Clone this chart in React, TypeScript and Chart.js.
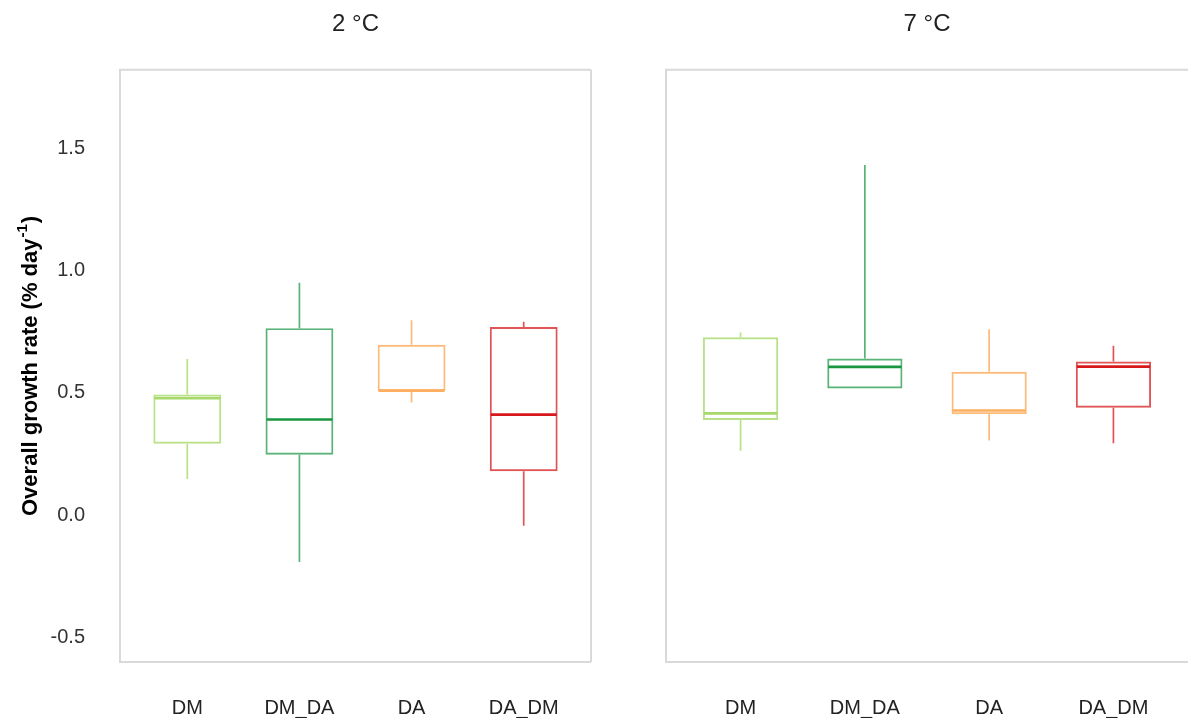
import React, { useEffect, useRef } from 'react';
import { Chart, registerables } from 'chart.js';

Chart.register(...registerables);

const FONT = '"Liberation Sans", Arial, Helvetica, sans-serif';

const categories = ['DM', 'DM_DA', 'DA', 'DA_DM'];
const panelTitles = ['2 °C', '7 °C'];
const yTicks = [-0.5, 0, 0.5, 1.0, 1.5];
const yMin = -0.6;
const yMax = 1.82;

// 2 °C
const min2 = [0.148, -0.191, 0.46, -0.043];
const q1_2 = [0.292, 0.247, 0.507, 0.18];
const med2 = [0.478, 0.391, 0.509, 0.411];
const q3_2 = [0.493, 0.764, 0.696, 0.769];
const max2 = [0.638, 0.95, 0.797, 0.79];

// 7 °C
const min7 = [0.263, 0.518, 0.305, 0.294];
const q1_7 = [0.389, 0.518, 0.413, 0.439];
const med7 = [0.416, 0.606, 0.428, 0.607];
const q3_7 = [0.727, 0.64, 0.586, 0.628];
const max7 = [0.746, 1.431, 0.76, 0.692];

const boxColors = [
  'rgba(166,217,106,0.8)',
  'rgba(26,150,65,0.72)',
  'rgba(253,174,97,0.85)',
  'rgba(215,25,28,0.75)',
];
const medianColors = ['#a6d96a', '#1a9641', '#fdae61', '#d7191c'];

const yTitleMain = 'Overall growth rate (% day';
const yTitleSup = '-1';
const yTitleClose = ')';

type PanelProps = {
  title: string;
  mins: number[];
  q1s: number[];
  meds: number[];
  q3s: number[];
  maxs: number[];
  showY: boolean;
  left: number;
  width: number;
  padLeft: number;
  padRight: number;
  frameRight: boolean;
};

function BoxPanel(p: PanelProps) {
  const ref = useRef<HTMLCanvasElement | null>(null);

  useEffect(() => {
    if (!ref.current) return;

    const boxExtras = {
      id: 'boxExtras',
      beforeDatasetsDraw(chart: any) {
        const { ctx, chartArea: a } = chart;
        ctx.save();
        ctx.strokeStyle = '#d9d9d9';
        ctx.lineWidth = 2;
        ctx.beginPath();
        ctx.moveTo(a.right, a.top);
        ctx.lineTo(a.left, a.top);
        ctx.lineTo(a.left, a.bottom);
        ctx.lineTo(a.right, a.bottom);
        if (p.frameRight) {
          ctx.moveTo(a.right, a.top);
          ctx.lineTo(a.right, a.bottom);
        }
        ctx.stroke();
        ctx.restore();
      },
      afterDatasetsDraw(chart: any) {
        const { ctx } = chart;
        const ys = chart.scales.y;
        const meta = chart.getDatasetMeta(0);
        ctx.save();
        meta.data.forEach((bar: any, i: number) => {
          const { x, width } = bar.getProps(['x', 'width'], true);
          const hw = width / 2;
          // whiskers
          ctx.strokeStyle = boxColors[i];
          ctx.lineWidth = 1.7;
          ctx.beginPath();
          ctx.moveTo(x, ys.getPixelForValue(p.maxs[i]));
          ctx.lineTo(x, ys.getPixelForValue(p.q3s[i]));
          ctx.moveTo(x, ys.getPixelForValue(p.q1s[i]));
          ctx.lineTo(x, ys.getPixelForValue(p.mins[i]));
          ctx.stroke();
          // median
          ctx.strokeStyle = medianColors[i];
          ctx.lineWidth = 2.6;
          ctx.beginPath();
          const my = ys.getPixelForValue(p.meds[i]);
          ctx.moveTo(x - hw + 1, my);
          ctx.lineTo(x + hw - 1, my);
          ctx.stroke();
        });
        ctx.restore();
      },
      afterDraw(chart: any) {
        if (!p.showY) return;
        const { ctx, chartArea: a } = chart;
        const cy = (a.top + a.bottom) / 2 + 1;
        const cx = 31;
        const big = `bold 22px ${FONT}`;
        const small = `bold 15px ${FONT}`;
        ctx.save();
        ctx.translate(cx, cy);
        ctx.rotate(-Math.PI / 2);
        ctx.fillStyle = '#000';
        ctx.textBaseline = 'middle';
        ctx.textAlign = 'left';
        ctx.font = big;
        const w1 = ctx.measureText(yTitleMain).width;
        const w3 = ctx.measureText(yTitleClose).width;
        ctx.font = small;
        const w2 = ctx.measureText(yTitleSup).width;
        let x = -(w1 + w2 + w3) / 2;
        ctx.font = big;
        ctx.fillText(yTitleMain, x, 0);
        x += w1 + 1;
        ctx.font = small;
        ctx.fillText(yTitleSup, x, -8);
        x += w2 + 1;
        ctx.font = big;
        ctx.fillText(yTitleClose, x, 0);
        ctx.restore();
      },
    };

    const chart = new Chart(ref.current, {
      type: 'bar',
      data: {
        datasets: [
          {
            data: categories.map((c, i) => ({ x: i, y: [p.q1s[i], p.q3s[i]] })) as any,
            backgroundColor: 'rgba(255,255,255,0)',
            borderColor: boxColors,
            borderWidth: 1.9,
            borderSkipped: false,
            barPercentage: 0.605,
            categoryPercentage: 1,
          } as any,
        ],
      },
      options: {
        animation: false,
        responsive: false,
        layout: { padding: { left: p.padLeft, right: p.padRight, top: 0, bottom: 0 } },
        plugins: {
          legend: { display: false },
          tooltip: { enabled: false },
          title: {
            display: true,
            text: p.title,
            fullSize: false,
            color: '#222',
            font: { family: FONT, size: 24, weight: 'normal' },
            padding: { top: 10, bottom: 31 },
          },
        },
        scales: {
          x: {
            type: 'linear',
            offset: false,
            min: -0.6,
            max: 3.6,
            grid: { display: false, drawTicks: false, offset: false },
            border: { display: false },
            afterBuildTicks: (s: any) => {
              s.ticks = categories.map((c, i) => ({ value: i }));
            },
            afterFit: (s: any) => {
              s.height = 56;
            },
            ticks: {
              padding: 34,
              autoSkip: false,
              maxRotation: 0,
              color: '#222',
              font: { family: FONT, size: 20 },
              callback: (v: any) => categories[Number(v)] ?? '',
            },
          },
          y: {
            type: 'linear',
            display: p.showY,
            min: yMin,
            max: yMax,
            grid: { display: false, drawTicks: false },
            border: { display: false },
            afterBuildTicks: (s: any) => {
              s.ticks = yTicks.map((v) => ({ value: v }));
            },
            afterFit: (s: any) => {
              s.width = p.showY ? 120 - p.padLeft : 0;
            },
            ticks: {
              padding: 35,
              color: '#333',
              font: { family: FONT, size: 20 },
              callback: (v: any) => Number(v).toFixed(1),
            },
          },
        },
      } as any,
      plugins: [boxExtras],
    });

    return () => chart.destroy();
  }, []);

  return (
    <canvas
      ref={ref}
      width={p.width}
      height={718}
      style={{ position: 'absolute', left: p.left, top: 0, width: p.width, height: 718, display: 'block' }}
    />
  );
}

export default function App() {
  return (
    <div
      style={{
        position: 'absolute',
        left: 0,
        top: 0,
        width: 1188,
        height: 718,
        overflow: 'hidden',
        background: '#fff',
      }}
    >
      <BoxPanel
        title={panelTitles[0]}
        mins={min2}
        q1s={q1_2}
        meds={med2}
        q3s={q3_2}
        maxs={max2}
        showY={true}
        left={0}
        width={600}
        padLeft={0}
        padRight={9}
        frameRight={true}
      />
      <BoxPanel
        title={panelTitles[1]}
        mins={min7}
        q1s={q1_7}
        meds={med7}
        q3s={q3_7}
        maxs={max7}
        showY={false}
        left={600}
        width={588}
        padLeft={66}
        padRight={0}
        frameRight={false}
      />
    </div>
  );
}
